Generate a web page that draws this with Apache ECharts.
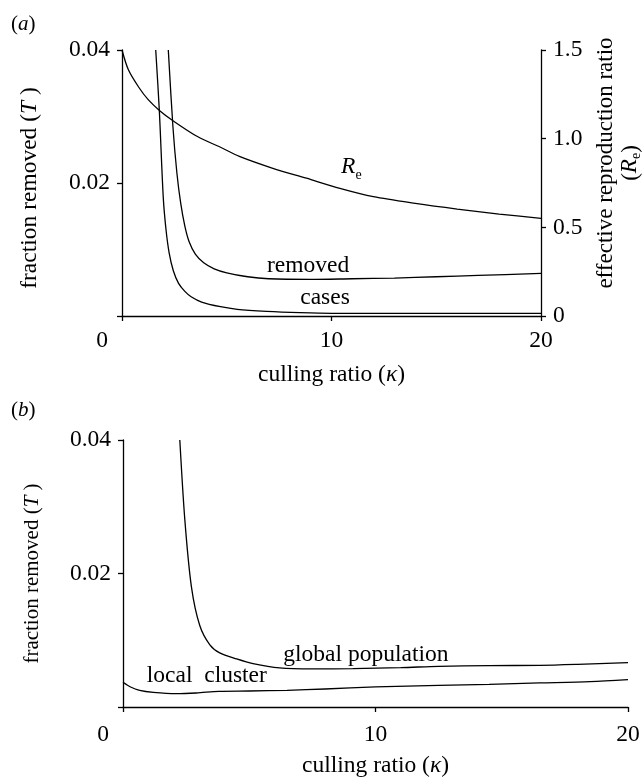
<!DOCTYPE html>
<html>
<head>
<meta charset="utf-8">
<script src="https://cdn.jsdelivr.net/npm/echarts@6/dist/echarts.min.js"></script>
<style>
  html, body { margin: 0; padding: 0; background: #fff; }
  #chart { width: 642px; height: 777px; }
</style>
</head>
<body>
<div id="chart"></div>
<script>
// (a) effective reproduction ratio, right axis
const reK = [0, 0.3, 0.8, 1.25, 1.8, 2.45, 3.6, 4.8, 5.6, 7.2, 8.8, 10.4, 12, 14, 16, 18, 20]
const reVal = [1.5, 1.39, 1.29, 1.22, 1.158, 1.10, 1.012, 0.946, 0.90, 0.833, 0.777, 0.72, 0.673, 0.635, 0.603, 0.575, 0.551]

// (a) fraction removed
const removedK = [2.21, 2.43, 2.62, 2.8, 3.0, 3.2, 3.5, 3.9, 4.4, 5.0, 6.0, 7.0, 9.0, 11, 13, 15, 17, 20]
const removedVal = [0.040, 0.0285, 0.0215, 0.0170, 0.0135, 0.0112, 0.0093, 0.0080, 0.0071, 0.0065, 0.0059, 0.0056, 0.0055, 0.0056, 0.0057, 0.0059, 0.0061, 0.0064]

// (a) cases
const casesK = [1.61, 1.78, 1.97, 2.1, 2.25, 2.45, 2.7, 3.0, 3.3, 3.8, 4.7, 5.5, 6.9, 8.5, 10, 15, 20]
const casesVal = [0.040, 0.031, 0.0178, 0.0130, 0.0095, 0.0068, 0.0049, 0.0037, 0.0029, 0.0021, 0.0014, 0.0010, 0.0007, 0.0005, 0.0004, 0.0004, 0.0004]

// (b) global population
const globalK = [2.25, 2.45, 2.71, 3.04, 3.44, 3.83, 4.5, 5.15, 6.2, 7.5, 9.1, 11, 12.5, 14.5, 16.5, 18, 20]
const globalVal = [0.040, 0.028, 0.018, 0.0122, 0.0093, 0.0081, 0.0072, 0.0065, 0.00585, 0.0057, 0.00576, 0.0059, 0.0061, 0.0062, 0.00625, 0.0064, 0.00666]

// (b) local cluster
const localK = [0, 0.3, 0.66, 1.2, 2.1, 2.9, 3.8, 5, 6.5, 8, 10, 12.5, 14.5, 16.5, 18.5, 20]
const localVal = [0.0037, 0.0030, 0.0025, 0.0022, 0.0020, 0.0021, 0.00235, 0.0024, 0.0025, 0.0027, 0.0030, 0.00325, 0.0034, 0.0036, 0.0038, 0.0041]

// curve labels: text, kappa, value
const labelsA = [['removed', 8.88, 0.0075], ['cases', 9.69, 0.0027], ['{r|R}{s|e}', 10.95, 0.0221]]
const labelsB = [['global population', 9.62, 0.00775], ['local  cluster', 3.32, 0.0046]]

const font = "'Liberation Serif', 'DejaVu Serif', serif"
const ink = '#000'
const fs = 23.5

const zip = (xs, ys) => xs.map((x, i) => [x, ys[i]])

const rich = {
  i: { fontStyle: 'italic', fontFamily: font, fontSize: fs, color: ink },
  r: { fontStyle: 'italic', fontFamily: font, fontSize: fs, color: ink, lineHeight: 27, verticalAlign: 'top' },
  s: { fontFamily: font, fontSize: 14, color: ink, lineHeight: 14, verticalAlign: 'bottom' },
  z: { fontFamily: font, fontSize: fs, color: ink, padding: [0, 40, 0, 0] }
}

// subscript styles for the rotated right-axis name
const nameRich = {
  r: { fontStyle: 'italic', fontFamily: font, fontSize: 23, color: ink, lineHeight: 24, verticalAlign: 'top' },
  s: { fontFamily: font, fontSize: 14, color: ink, lineHeight: 13, verticalAlign: 'bottom' }
}

const axisLine = { show: true, lineStyle: { color: ink, width: 1.3 } }
const axisTick = { show: true, length: 5, lineStyle: { color: ink, width: 1.3 } }

const xAxisBase = (gridIndex, margin) => ({
  type: 'value',
  gridIndex,
  min: 0,
  max: 20,
  interval: 10,
  name: 'culling ratio ({i|κ})',
  nameLocation: 'middle',
  nameGap: 47,
  nameTextStyle: { fontFamily: font, fontSize: fs, color: ink, rich },
  axisLine,
  axisTick,
  splitLine: { show: false },
  axisLabel: {
    margin,
    fontFamily: font,
    fontSize: fs,
    color: ink,
    rich,
    formatter: v => (v === 0 ? '{z|0}' : String(v))
  }
})

const leftAxis = (gridIndex, nameSize, pad) => ({
  type: 'value',
  gridIndex,
  position: 'left',
  min: 0,
  max: 0.04,
  interval: 0.02,
  name: 'fraction removed ({i|T} )',
  nameLocation: 'middle',
  nameRotate: 90,
  nameGap: 80,
  nameTextStyle: {
    fontFamily: font, fontSize: nameSize, color: ink, padding: pad,
    rich: { i: { fontStyle: 'italic', fontFamily: font, fontSize: nameSize, color: ink } }
  },
  axisLine,
  axisTick,
  splitLine: { show: false },
  axisLabel: {
    margin: 12,
    fontFamily: font,
    fontSize: fs,
    color: ink,
    formatter: v => (v === 0 ? '' : v.toFixed(2))
  }
})

const line = (name, xi, yi, data) => ({
  name,
  type: 'line',
  xAxisIndex: xi,
  yAxisIndex: yi,
  data,
  showSymbol: false,
  smooth: 0.3,
  lineStyle: { color: ink, width: 1.3 },
  silent: true,
  z: 3
})

const labelSeries = (xi, yi, list) => ({
  type: 'scatter',
  xAxisIndex: xi,
  yAxisIndex: yi,
  symbolSize: 0,
  silent: true,
  z: 5,
  itemStyle: { opacity: 1 },
  data: list.map(([text, k, v]) => ({
    value: [k, v],
    label: {
      show: true,
      position: 'inside',
      formatter: text,
      fontFamily: font,
      fontSize: fs,
      color: ink,
      opacity: 1,
      textBorderWidth: 0,
      rich
    }
  }))
})

const chart = echarts.init(document.getElementById('chart'))

const panelTitle = (letter, top) => ({
  text: '({i|' + letter + '})',
  left: 6,
  top,
  textStyle: {
    fontFamily: font, fontSize: 21, fontWeight: 'normal', color: ink,
    rich: { i: { fontStyle: 'italic', fontFamily: font, fontSize: 21, color: ink } }
  }
})

chart.setOption({
  animation: false,
  backgroundColor: '#fff',
  title: [panelTitle('a', 9), panelTitle('b', 395)],
  grid: [
    { left: 122, right: 101, top: 50, bottom: 461, containLabel: false, outerBoundsMode: 'none' },
    { left: 123, right: 14, top: 440, bottom: 70, containLabel: false, outerBoundsMode: 'none' }
  ],
  xAxis: [xAxisBase(0, 13), xAxisBase(1, 16)],
  yAxis: [
    leftAxis(0, fs, [0, 10, 0, 0]),
    {
      type: 'value',
      gridIndex: 0,
      position: 'right',
      min: 0,
      max: 1.5,
      interval: 0.5,
      name: 'effective reproduction ratio\n({r|R}{s|e})',
      nameLocation: 'middle',
      nameRotate: 90,
      nameGap: 51,
      nameTextStyle: { fontFamily: font, fontSize: 23, color: ink, lineHeight: 25, padding: [0, 0, 0, 40], rich: nameRich },
      axisLine,
      axisTick,
      splitLine: { show: false },
      axisLabel: {
        margin: 12,
        fontFamily: font,
        fontSize: fs,
        color: ink,
        formatter: v => (v === 0 ? '0' : v.toFixed(1))
      }
    },
    leftAxis(1, 21, [0, 0, 0, 0])
  ],
  series: [
    line('Re', 0, 1, zip(reK, reVal)),
    line('removed', 0, 0, zip(removedK, removedVal)),
    line('cases', 0, 0, zip(casesK, casesVal)),
    line('global population', 1, 2, zip(globalK, globalVal)),
    line('local cluster', 1, 2, zip(localK, localVal)),
    labelSeries(0, 0, labelsA),
    labelSeries(1, 2, labelsB)
  ]
})
</script>
</body>
</html>
